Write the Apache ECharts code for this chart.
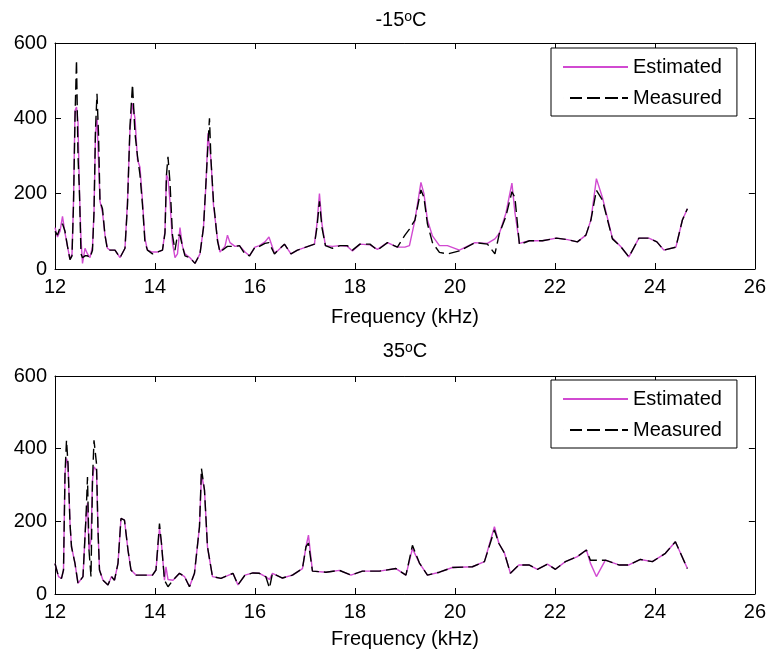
<!DOCTYPE html>
<html>
<head>
<meta charset="utf-8">
<script src="https://cdn.jsdelivr.net/npm/echarts@6/dist/echarts.min.js"></script>
<style>
html,body{margin:0;padding:0;background:#fff;}
#chart{width:769px;height:655px;}
</style>
</head>
<body>
<div id="chart"></div>
<script>
// ---- Data ----
var topTitle = '-15{s|o}C';
var botTitle = '35{s|o}C';
var seriesNames = ['Estimated', 'Measured'];

var topFreq = [12.00,12.05,12.10,12.15,12.20,12.25,12.30,12.34,12.37,12.40,12.43,12.46,12.49,12.52,12.55,12.60,12.65,12.70,12.75,12.78,12.81,12.84,12.87,12.90,12.95,13.00,13.05,13.10,13.20,13.30,13.40,13.45,13.50,13.55,13.60,13.65,13.70,13.75,13.80,13.85,13.95,14.05,14.15,14.20,14.23,14.26,14.30,14.35,14.40,14.45,14.50,14.55,14.60,14.70,14.80,14.90,14.97,15.02,15.06,15.09,15.12,15.17,15.25,15.30,15.40,15.45,15.50,15.60,15.69,15.80,15.89,16.00,16.09,16.20,16.28,16.39,16.45,16.59,16.72,16.85,17.02,17.19,17.24,17.29,17.34,17.41,17.55,17.70,17.85,17.95,18.10,18.30,18.45,18.65,18.85,19.00,19.09,19.20,19.32,19.38,19.45,19.55,19.69,19.85,20.09,20.40,20.65,20.80,20.89,21.02,21.14,21.20,21.29,21.49,21.75,22.03,22.25,22.45,22.62,22.72,22.83,22.95,23.15,23.32,23.48,23.68,23.88,24.04,24.18,24.42,24.55,24.65];
var topEstimated = [110,85,100,140,95,60,25,40,180,420,430,390,200,80,15,55,40,30,60,150,360,400,290,180,150,90,55,50,50,30,55,180,370,440,400,290,270,180,80,50,45,45,50,100,250,240,180,70,30,40,110,60,40,30,15,40,110,225,360,360,290,170,80,45,60,90,70,60,62,45,35,58,62,72,85,42,48,66,40,50,58,66,120,200,120,62,60,62,60,48,66,64,52,70,58,58,62,130,230,200,130,88,62,62,50,70,68,80,95,148,228,150,68,75,75,82,78,72,90,130,240,190,82,59,32,82,82,72,50,58,130,160];
var topMeasured  = [100,90,110,120,100,60,25,35,170,400,555,300,200,40,30,35,35,30,50,150,370,465,360,180,160,90,50,50,50,30,55,170,380,490,360,300,250,170,70,50,40,45,50,95,250,298,230,90,50,90,90,60,35,30,15,40,110,230,330,400,290,180,75,45,55,60,60,60,62,40,35,58,60,68,70,40,48,66,40,50,58,66,110,180,110,62,55,62,62,50,66,66,50,70,58,90,106,130,210,190,120,70,44,40,48,70,66,40,95,140,205,190,65,75,75,82,78,72,90,130,209,183,80,59,32,82,82,72,50,58,130,160];

var botFreq = [12.00,12.07,12.13,12.17,12.20,12.23,12.26,12.30,12.33,12.40,12.46,12.56,12.62,12.65,12.68,12.72,12.75,12.78,12.83,12.86,12.89,12.96,13.06,13.13,13.19,13.26,13.32,13.39,13.46,13.52,13.62,13.75,13.95,14.02,14.09,14.13,14.19,14.22,14.26,14.36,14.49,14.59,14.69,14.79,14.89,14.93,14.99,15.05,15.15,15.32,15.56,15.66,15.80,15.96,16.09,16.22,16.29,16.35,16.55,16.75,16.95,17.02,17.07,17.15,17.42,17.69,17.92,18.15,18.49,18.82,19.02,19.15,19.29,19.45,19.69,19.95,20.35,20.59,20.79,20.88,20.99,21.11,21.28,21.48,21.65,21.85,22.01,22.21,22.45,22.63,22.71,22.83,23.01,23.28,23.48,23.71,23.95,24.21,24.41,24.65];
var botEstimated = [84,48,43,66,331,373,359,194,130,84,29,48,212,250,121,150,313,350,340,176,66,38,25,48,38,84,208,203,121,66,52,52,52,66,180,139,38,75,40,38,57,48,20,57,185,330,286,130,48,43,57,25,52,58,57,47,40,57,44,52,70,130,162,63,60,65,52,63,63,70,52,125,85,52,60,73,75,89,185,139,113,57,80,80,68,82,68,89,103,121,85,48,93,80,80,95,89,112,144,70];
var botMeasured  = [84,48,43,66,331,423,359,194,130,84,29,48,212,322,121,48,313,423,359,176,66,38,25,48,38,84,208,203,121,66,52,52,52,66,194,139,38,40,20,38,57,48,20,57,185,345,286,130,48,43,57,25,52,58,57,47,16,57,44,52,70,130,140,63,60,65,52,63,63,70,52,134,85,52,60,73,75,89,176,139,113,57,80,80,68,82,68,89,103,121,93,93,93,80,80,95,89,112,144,70];

// ---- Build chart ----
function pairs(xs, ys) { return xs.map(function (x, i) { return [x, ys[i]]; }); }

var FONT = '"Liberation Sans", Arial, sans-serif';
var estColor = '#d14ad1';
var measColor = '#000000';
var solidIcon = 'path://M0,0H65V2H0Z';
var dashIcon = 'path://M0,0H0.01V2H0Z M7,0H19V2H7Z M24,0H37V2H24Z M42,0H55V2H42Z M59,0H65V2H59Z';

function xAx(grid, pos, showLabel, nameGap) {
  return {
    type: 'value', gridIndex: grid, position: pos, min: 12, max: 26, interval: 2,
    axisLine: { show: true, onZero: false, lineStyle: { color: '#000', width: 1 } },
    axisTick: { show: true, inside: true, length: 6, lineStyle: { color: '#000' } },
    axisLabel: { show: showLabel, color: '#000', fontSize: 20, fontFamily: FONT, margin: 8 },
    splitLine: { show: false },
    name: showLabel ? 'Frequency (kHz)' : '',
    nameLocation: 'middle', nameGap: nameGap,
    nameTextStyle: { color: '#000', fontSize: 20, fontFamily: FONT }
  };
}
function yAx(grid, pos, showLabel) {
  return {
    type: 'value', gridIndex: grid, position: pos, min: 0, max: 600, interval: 200,
    axisLine: { show: true, onZero: false, lineStyle: { color: '#000', width: 1 } },
    axisTick: { show: true, inside: true, length: 6, lineStyle: { color: '#000' } },
    axisLabel: { show: showLabel, color: '#000', fontSize: 20, fontFamily: FONT, margin: 8 },
    splitLine: { show: false }
  };
}
function lineSeries(name, xi, yi, data, color, dashed) {
  return {
    name: name, type: 'line', xAxisIndex: xi, yAxisIndex: yi, data: data,
    symbol: 'none', showSymbol: false, smooth: false,
    lineStyle: { color: color, width: 1.4, type: dashed ? [11, 5] : 'solid' },
    itemStyle: { color: color }
  };
}
function legendAt(top) {
  return {
    orient: 'vertical', left: 551, top: top,
    data: [
      { name: seriesNames[0], icon: solidIcon, itemStyle: { color: estColor } },
      { name: seriesNames[1], icon: dashIcon, itemStyle: { color: measColor } }
    ],
    itemWidth: 65, itemHeight: 2, itemGap: 11,
    padding: [9, 15, 8, 12],
    borderColor: '#000', borderWidth: 1, backgroundColor: '#fff',
    selectedMode: false,
    textStyle: { color: '#000', fontSize: 20, fontFamily: FONT, lineHeight: 20 }
  };
}
var rich = { s: { fontSize: 14, fontFamily: FONT, verticalAlign: 'top', fill: '#000', color: '#000' } };

var chart = echarts.init(document.getElementById('chart'), null, { renderer: 'canvas' });
chart.setOption({
  animation: false,
  backgroundColor: '#fff',
  grid: [
    { left: 55, right: 13, top: 43, height: 226 },
    { left: 55, right: 13, top: 376, height: 218 }
  ],
  xAxis: [xAx(0, 'bottom', true, 38), xAx(0, 'top', false, 0), xAx(1, 'bottom', true, 35), xAx(1, 'top', false, 0)],
  yAxis: [yAx(0, 'left', true), yAx(0, 'right', false), yAx(1, 'left', true), yAx(1, 'right', false)],
  legend: [legendAt(48), legendAt(380)],
  graphic: [
    { type: 'text', x: 401, y: 20, style: { text: topTitle, rich: rich, font: '20px ' + FONT, fill: '#000', align: 'center', verticalAlign: 'middle' } },
    { type: 'text', x: 405, y: 351, style: { text: botTitle, rich: rich, font: '20px ' + FONT, fill: '#000', align: 'center', verticalAlign: 'middle' } }
  ],
  series: [
    lineSeries(seriesNames[0], 0, 0, pairs(topFreq, topEstimated), estColor, false),
    lineSeries(seriesNames[1], 0, 0, pairs(topFreq, topMeasured), measColor, true),
    lineSeries(seriesNames[0], 2, 2, pairs(botFreq, botEstimated), estColor, false),
    lineSeries(seriesNames[1], 2, 2, pairs(botFreq, botMeasured), measColor, true)
  ]
});
</script>
</body>
</html>
